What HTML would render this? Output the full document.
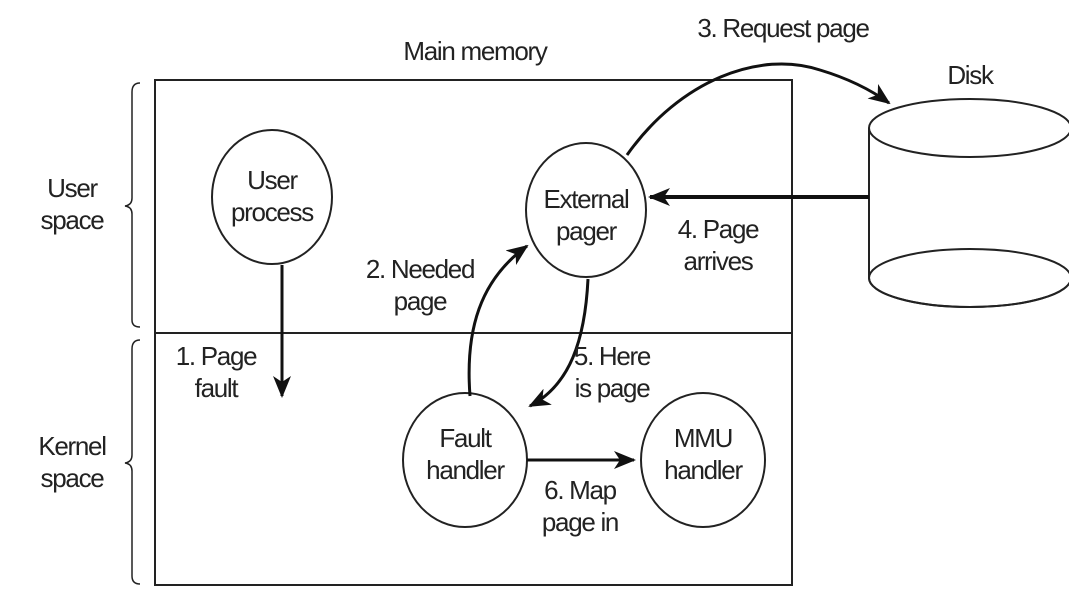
<!DOCTYPE html>
<html><head><style>body{margin:0;background:#fff}svg text{font-family:"Liberation Sans",Arial,sans-serif;font-size:26px;fill:#222;letter-spacing:-1.3px}</style></head>
<body>
<svg width="1069" height="601" viewBox="0 0 1069 601" xmlns="http://www.w3.org/2000/svg">
<defs>
<marker id="b" markerWidth="22" markerHeight="18" refX="20" refY="9" orient="auto" markerUnits="userSpaceOnUse"><path d="M0,0 L22,9 L0,18 L6,9 z" fill="#111"/></marker></defs>
<g fill="none" stroke="#222" stroke-width="2">
<rect x="155" y="80" width="637" height="505"/>
<line x1="155" y1="333" x2="792" y2="333"/>
<ellipse cx="272" cy="197" rx="60" ry="67"/>
<ellipse cx="586" cy="210" rx="60" ry="67"/>
<ellipse cx="465" cy="460" rx="62" ry="67"/>
<ellipse cx="703" cy="460" rx="62" ry="67"/>
<ellipse cx="970" cy="128" rx="101" ry="29"/>
<path d="M869,128 V278 A101,29 0 0 0 1071,278"/>
<ellipse cx="970" cy="278" rx="101" ry="29"/>
<path d="M140,83 Q132,83 132,92 V198 Q132,205 125,206 Q132,207 132,214 V320 Q132,327 140,327" stroke-width="1.5"/>
<path d="M140,340 Q132,340 132,349 V455 Q132,462 125,463 Q132,464 132,471 V576 Q132,584 140,584" stroke-width="1.5"/>
</g>
<g fill="none" stroke="#111" stroke-width="3">
<line x1="282" y1="265" x2="282" y2="396" marker-end="url(#b)"/>
<line x1="869" y1="197" x2="650" y2="197" marker-end="url(#b)" stroke-width="4"/>
<line x1="527" y1="460" x2="634" y2="460" marker-end="url(#b)"/>
<path d="M627,155 C680,80 760,50 820,70 Q860,82 889,103" marker-end="url(#b)"/>
<path d="M470,396 C465,330 480,280 527,246" marker-end="url(#b)"/>
<path d="M588,279 C585,340 570,385 530,406" marker-end="url(#b)"/>
</g>
<g text-anchor="middle">
<text x="475" y="60">Main memory</text>
<text x="783" y="37">3. Request page</text>
<text x="970" y="84">Disk</text>
<text x="72" y="197">User</text><text x="72" y="229">space</text>
<text x="72" y="455">Kernel</text><text x="72" y="487">space</text>
<text x="272" y="189">User</text><text x="272" y="221">process</text>
<text x="586" y="208">External</text><text x="586" y="240">pager</text>
<text x="465" y="447">Fault</text><text x="465" y="479">handler</text>
<text x="703" y="447">MMU</text><text x="703" y="479">handler</text>
<text x="420" y="278">2. Needed</text><text x="420" y="310">page</text>
<text x="718" y="238">4. Page</text><text x="718" y="270">arrives</text>
<text x="216" y="365">1. Page</text><text x="216" y="397">fault</text>
<text x="612" y="365">5. Here</text><text x="612" y="397">is page</text>
<text x="580" y="499">6. Map</text><text x="580" y="531">page in</text>
</g>
</svg>
</body></html>
